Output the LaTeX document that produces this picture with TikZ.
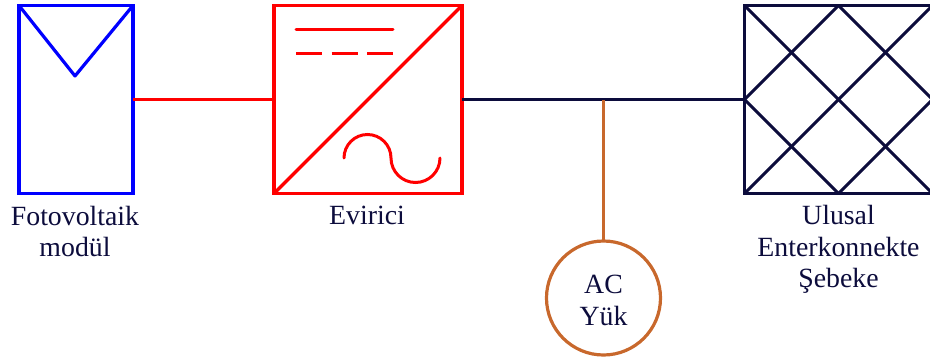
\documentclass[tikz,border=0pt]{standalone}
\usepackage{fontspec}
\setmainfont{Liberation Serif}
\usetikzlibrary{positioning}
\definecolor{navyline}{RGB}{12,12,60}
\definecolor{loadline}{RGB}{200,104,44}
\tikzset{
  symbolbox/.style={rectangle, draw, line width=3.2pt, inner sep=0pt, outer sep=0pt},
  loadcircle/.style={circle, draw=loadline, line width=3.2pt, inner sep=0pt, outer sep=0pt, minimum size=114pt},
  caption/.style={align=center, text=navyline, font=\fontsize{27.8}{31.5}\selectfont, inner sep=0pt},
}
\begin{document}
\begin{tikzpicture}[x=1pt, y=-1pt]
\useasboundingbox (0,0) rectangle (930,360);
\node [symbolbox, draw=blue, minimum width=114pt, minimum height=188pt] (pv) at (76,99.5) {};
\node [symbolbox, draw=red, minimum width=188pt, minimum height=188pt, right=141pt of pv] (inv) {};
\node [symbolbox, draw=navyline, minimum width=188pt, minimum height=188pt, right=282.5pt of inv] (grid) {};
\node [loadcircle, text=navyline] (load) at (603.5,298) {};
\node [caption, anchor=north] (pvlabel) at (75,206) {Fotovoltaik\\modül};
\node [caption, anchor=north] (invlabel) at (367,206) {Evirici};
\node [caption, anchor=north] (gridlabel) at (838.5,205.5) {Ulusal\\Enterkonnekte\\Şebeke};
\node [caption] (loadlabel) at (603.5,300.5) {AC\\Yük};
% module symbol
\draw [blue, line width=3.2pt, line join=round] (pv.north west) -- (75,76) -- (pv.north east);
% inverter symbol
\draw [red, line width=3.2pt] (inv.south west) -- (inv.north east);
\draw [red, line width=3pt, line cap=round] (296,29) -- (393,29);
\draw [red, line width=3pt, dash pattern=on 26pt off 9.5pt] (296,53) -- (393,53);
\draw [red, line width=3pt, line cap=round] (344,158) arc (180:360:23.5) arc (180:0:24.5);
% grid symbol
\draw [navyline, line width=3pt] (grid.north west) -- (grid.south east);
\draw [navyline, line width=3pt] (grid.south west) -- (grid.north east);
\draw [navyline, line width=3pt] (grid.north) -- (grid.east);
\draw [navyline, line width=3pt] (grid.west) -- (grid.south);
\draw [navyline, line width=3pt] (grid.west) -- (grid.north);
\draw [navyline, line width=3pt] (grid.south) -- (grid.east);
% connectors
\draw [red, line width=3pt] (pv.east) -- (inv.west);
\draw [navyline, line width=3pt] (inv.east) -- (grid.west);
\draw [loadline, line width=3.2pt] (load.north) -- (load.north |- inv.east);
\end{tikzpicture}
\end{document}
